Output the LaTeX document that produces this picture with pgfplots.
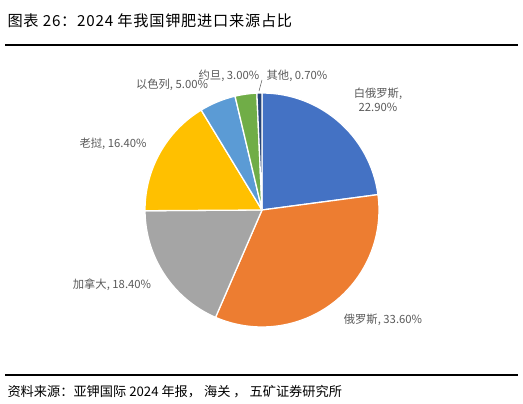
\documentclass[border=0pt]{standalone}
\usepackage{fontspec}
\setmainfont{Noto Sans CJK SC}
\usepackage{pgfplots}
\usepackage{pgfplotstable}
\pgfplotsset{compat=1.18}

\definecolor{cBlue}{HTML}{4472C4}
\definecolor{cOrange}{HTML}{ED7D31}
\definecolor{cGray}{HTML}{A5A5A5}
\definecolor{cGold}{HTML}{FFC000}
\definecolor{cLBlue}{HTML}{5B9BD5}
\definecolor{cGreen}{HTML}{70AD47}
\definecolor{cNavy}{HTML}{264478}
\definecolor{lbl}{HTML}{595959}

% share of imports, clockwise from 12 o'clock
\pgfplotstableread{
v     col
22.9  cBlue
33.6  cOrange
18.4  cGray
16.4  cGold
5.0   cLBlue
3.0   cGreen
0.7   cNavy
}\shares

\begin{document}
\begin{tikzpicture}
\begin{axis}[
    width=523pt, height=404pt, scale only axis,
    xmin=0, xmax=523, ymin=0, ymax=404, y dir=reverse,
    hide axis, clip=false,
]
\path (axis cs:0,0) rectangle (axis cs:523,404);

% title and rules
\node[anchor=west, font=\fontsize{15.2}{17}\selectfont\addfontfeature{LetterSpace=5}] at (axis cs:4,21) {图表 26：2024 年我国钾肥进口来源占比};
\draw[line width=1.4pt] (axis cs:5,45) -- (axis cs:518,45);
\draw[line width=1.4pt] (axis cs:5,375) -- (axis cs:518,375);
\node[anchor=west, font=\fontsize{13.2}{15}\selectfont] at (axis cs:4,392) {资料来源：亚钾国际 2024 年报， 海关 ， 五矿证券研究所};

% pie slices
\gdef\startang{90}
\pgfplotsforeachungrouped \i in {0,...,6} {
    \pgfplotstablegetelem{\i}{v}\of\shares
    \let\val\pgfplotsretval
    \pgfplotstablegetelem{\i}{col}\of\shares
    \let\clr\pgfplotsretval
    \pgfmathsetmacro\endang{\startang-3.6*\val}
    \edef\temp{\noexpand\filldraw[fill=\clr, draw=white, line width=1.3pt, line join=round]
        (axis cs:262,210) -- ++(\startang:117pt) arc[start angle=\startang, end angle=\endang, radius=117pt] -- cycle;}
    \temp
    \global\let\startang\endang
}

% labels
\begin{scope}[font=\fontsize{11.3}{14}\selectfont, text=lbl]
\node[align=center] at (axis cs:378,100) {白俄罗斯,\\22.90\%};
\node at (axis cs:383,320) {俄罗斯, 33.60\%};
\node at (axis cs:112,285) {加拿大, 18.40\%};
\node at (axis cs:113,144) {老挝, 16.40\%};
\node at (axis cs:172,85) {以色列, 5.00\%};
\node at (axis cs:229,76) {约旦, 3.00\%};
\node at (axis cs:297,76) {其他, 0.70\%};
\end{scope}
\draw[lbl, line width=0.5pt] (axis cs:259,91) -- (axis cs:262,80);
\end{axis}
\end{tikzpicture}
\end{document}
